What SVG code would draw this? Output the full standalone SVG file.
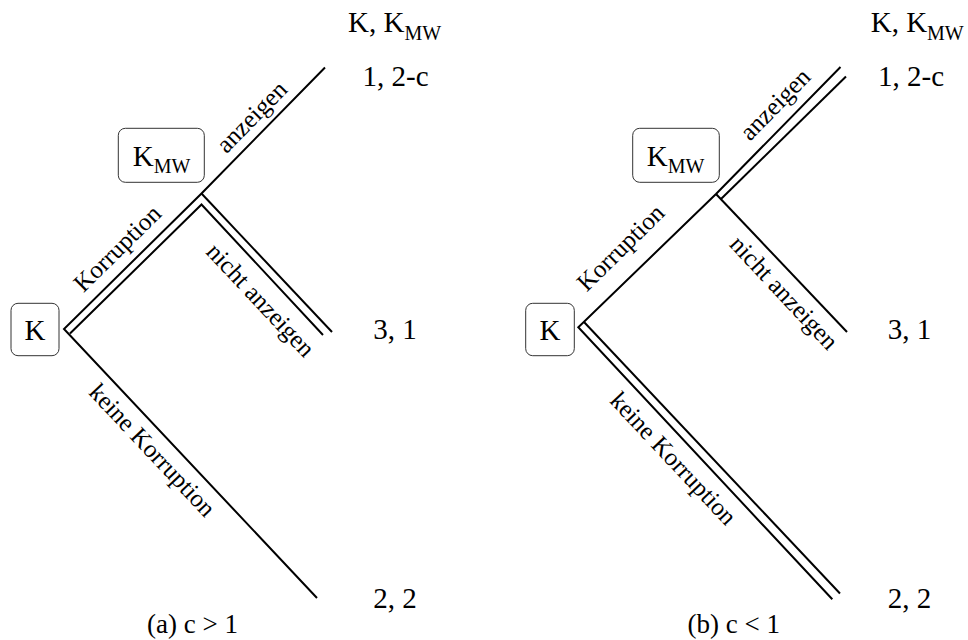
<svg xmlns="http://www.w3.org/2000/svg" width="968" height="640" viewBox="0 0 968 640">
  <style>
    .e { fill: none; stroke: #000; stroke-width: 2; stroke-linejoin: miter; stroke-linecap: butt; }
    .box { fill: #fff; stroke: #333; stroke-width: 1; }
    .t { font-family: "Liberation Serif", "Times New Roman", serif; fill: #000; }
    .big { font-size: 29px; }
    .lab { font-size: 25px; text-anchor: middle; }
    .cap { font-size: 27px; text-anchor: middle; }
    .mid { text-anchor: middle; }
  </style>
  <rect width="968" height="640" fill="#fff"/>

  <!-- connectors -->
  <g id="connectors">
    <!-- (a) -->
    <path class="e" d="M325,67.5 L201.5,193.5 L64,329 L317,598"/>
    <path class="e" d="M201.5,193.5 L332,332"/>
    <path class="e" d="M70,333.5 L201.5,204.5 L323,335"/>
    <!-- (b) -->
    <path class="e" d="M840.5,67 L716,194 L578.3,327.3 L832.3,599.3"/>
    <path class="e" d="M716,194 L847,332"/>
    <path class="e" d="M721,199 L846,76.5"/>
    <path class="e" d="M584,322 L840,593.5"/>
  </g>

  <!-- edge labels -->
  <g id="edge-labels" class="t">
    <text class="lab" transform="translate(253.3,118.3) rotate(-45.6)" y="6">anzeigen</text>
    <text class="lab" transform="translate(118.8,250) rotate(-44.6)" y="6">Korruption</text>
    <text class="lab" transform="translate(259,301.5) rotate(46.9)" y="6">nicht anzeigen</text>
    <text class="lab" transform="translate(150.8,451.7) rotate(46.8)" y="6">keine Korruption</text>

    <text class="lab" transform="translate(776.7,105.8) rotate(-45.6)" y="6">anzeigen</text>
    <text class="lab" transform="translate(622.2,249.2) rotate(-44.6)" y="6">Korruption</text>
    <text class="lab" transform="translate(782.5,294.2) rotate(46.9)" y="6">nicht anzeigen</text>
    <text class="lab" transform="translate(671.7,460) rotate(46.8)" y="6">keine Korruption</text>
  </g>

  <!-- nodes (a) -->
  <g id="node-a-K">
    <rect class="box" x="11" y="303.3" width="48" height="52.4" rx="7"/>
    <text class="t big mid" x="35" y="340">K</text>
  </g>
  <g id="node-a-KMW">
    <rect class="box" x="118.3" y="128.3" width="86" height="54" rx="7"/>
    <text class="t big" x="132.7" y="165.7">K<tspan font-size="20" dy="7.5">MW</tspan></text>
  </g>
  <g id="header-a">
    <text class="t big" x="348" y="32.3">K, K<tspan font-size="20" dy="8">MW</tspan></text>
  </g>
  <g id="payoff-a-1"><text class="t big mid" x="395.5" y="86">1, 2-c</text></g>
  <g id="payoff-a-2"><text class="t big mid" x="395" y="339">3, 1</text></g>
  <g id="payoff-a-3"><text class="t big mid" x="395" y="608">2, 2</text></g>
  <g id="caption-a"><text class="t cap" x="192.5" y="633">(a) c &gt; 1</text></g>

  <!-- nodes (b) -->
  <g id="node-b-K">
    <rect class="box" x="525.7" y="303.3" width="48.6" height="52.4" rx="7"/>
    <text class="t big mid" x="550" y="340">K</text>
  </g>
  <g id="node-b-KMW">
    <rect class="box" x="632.7" y="128.3" width="86.6" height="54" rx="7"/>
    <text class="t big" x="646.7" y="165.7">K<tspan font-size="20" dy="7.5">MW</tspan></text>
  </g>
  <g id="header-b">
    <text class="t big" x="870.7" y="32.3">K, K<tspan font-size="20" dy="8">MW</tspan></text>
  </g>
  <g id="payoff-b-1"><text class="t big mid" x="911" y="86">1, 2-c</text></g>
  <g id="payoff-b-2"><text class="t big mid" x="909.5" y="339">3, 1</text></g>
  <g id="payoff-b-3"><text class="t big mid" x="909.5" y="608">2, 2</text></g>
  <g id="caption-b"><text class="t cap" x="733.7" y="633">(b) c &lt; 1</text></g>
</svg>
